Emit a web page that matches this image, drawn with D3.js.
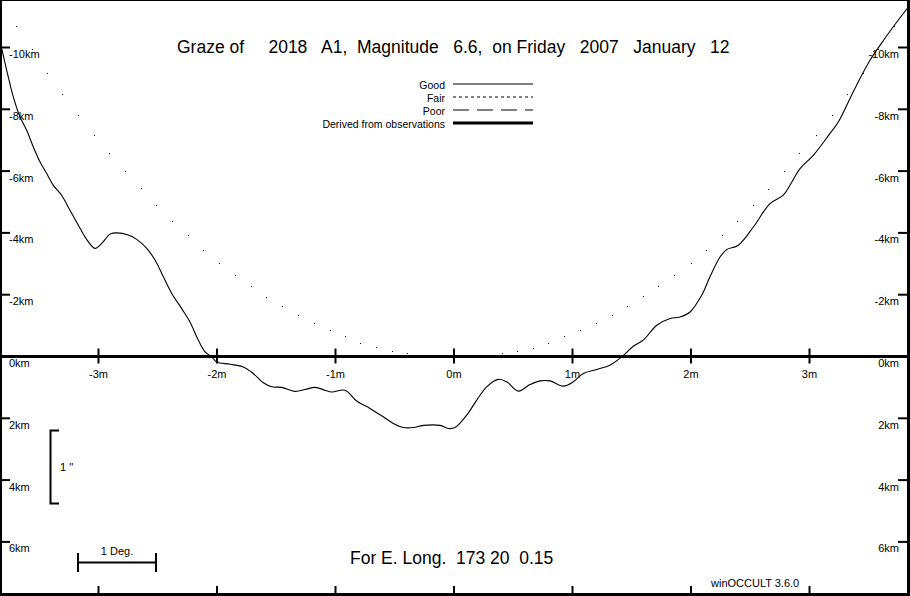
<!DOCTYPE html>
<html>
<head>
<meta charset="utf-8">
<script src="https://cdn.jsdelivr.net/npm/d3@7"></script>
<style>
  html, body { margin: 0; padding: 0; background: #fff; }
  svg { display: block; }
  text { font-family: "Liberation Sans", Arial, sans-serif; fill: #000; }
</style>
</head>
<body>
<svg id="chart" width="910" height="596"></svg>
<script>
// ---------------- data ----------------
const titleText = "Graze of     2018   A1,  Magnitude   6.6,  on Friday   2007   January   12";
const footText = "For E. Long.  173 20  0.15";
const versionText = "winOCCULT 3.6.0";

const xTicks = [-3, -2, -1, 0, 1, 2, 3];
const xTickLabels = ["-3m", "-2m", "-1m", "0m", "1m", "2m", "3m"];
const yTicks = [-10, -8, -6, -4, -2, 0, 2, 4, 6];
const yTickLabels = ["-10km", "-8km", "-6km", "-4km", "-2km", "0km", "2km", "4km", "6km"];

const legendLabels = ["Good", "Fair", "Poor", "Derived from observations"];
const legendDash = ["", "3,3", "16,8", ""];
const legendWidth = [1, 1, 1, 3];

// limb profile: minutes of time vs km
const profileMin = [-3.817, -3.775, -3.719, -3.662, -3.606, -3.550, -3.494, -3.437, -3.381, -3.311,
  -3.241, -3.170, -3.100, -3.030, -2.973, -2.903, -2.846, -2.749, -2.678, -2.593,
  -2.523, -2.453, -2.382, -2.298, -2.228, -2.158, -2.101, -2.045, -2.003, -1.890,
  -1.778, -1.694, -1.609, -1.538, -1.454, -1.342, -1.257, -1.173, -1.089, -1.032,
  -0.920, -0.821, -0.709, -0.597, -0.512, -0.428, -0.343, -0.259, -0.118, -0.048,
  0.008, 0.107, 0.192, 0.276, 0.374, 0.445, 0.543, 0.641, 0.726, 0.810,
  0.922, 1.007, 1.091, 1.204, 1.316, 1.415, 1.513, 1.597, 1.711, 1.823,
  1.907, 1.992, 2.090, 2.160, 2.245, 2.301, 2.399, 2.526, 2.667, 2.779,
  2.835, 2.920, 3.032, 3.173, 3.243, 3.342, 3.426, 3.511, 3.595, 3.707, 3.834];
const profileKm = [-9.97, -9.27, -8.40, -7.75, -7.32, -6.78, -6.30, -5.92, -5.54, -5.22,
  -4.73, -4.25, -3.79, -3.50, -3.66, -3.96, -4.00, -3.93, -3.79, -3.50,
  -3.12, -2.58, -2.04, -1.55, -1.12, -0.53, -0.15, 0.01, 0.18, 0.25,
  0.34, 0.55, 0.85, 0.98, 1.00, 1.13, 1.07, 1.00, 1.09, 1.15,
  1.09, 1.44, 1.68, 1.95, 2.17, 2.30, 2.30, 2.23, 2.23, 2.33,
  2.30, 1.90, 1.41, 0.98, 0.74, 0.82, 1.12, 0.91, 0.79, 0.79,
  0.96, 0.82, 0.55, 0.42, 0.28, 0.01, -0.33, -0.53, -1.01, -1.23,
  -1.28, -1.44, -1.98, -2.58, -3.22, -3.46, -3.60, -4.19, -4.95, -5.22,
  -5.54, -6.08, -6.51, -7.22, -7.59, -8.35, -9.00, -9.59, -10.07, -10.67, -11.31];

// dotted predicted limb: minutes vs km
const dotMin = [-3.699, -3.565, -3.432, -3.305, -3.170, -3.035, -2.909, -2.774, -2.639, -2.512,
  -2.377, -2.242, -2.116, -1.981, -1.846, -1.716, -1.584, -1.449, -1.314, -1.181,
  -1.046, -0.920, -0.793, -0.658, -0.521, -0.394, -0.259, -0.127, 0.008, 0.141,
  0.270, 0.403, 0.534, 0.669, 0.796, 0.931, 1.063, 1.198, 1.331, 1.462,
  1.597, 1.724, 1.859, 1.997, 2.124, 2.259, 2.391, 2.521, 2.652, 2.787,
  2.914, 3.052, 3.187, 3.314, 3.454, 3.582, 3.713];
const dotKm = [-10.69, -9.94, -9.19, -8.51, -7.83, -7.18, -6.57, -5.99, -5.44, -4.90,
  -4.40, -3.92, -3.46, -3.04, -2.65, -2.27, -1.94, -1.62, -1.33, -1.08,
  -0.85, -0.66, -0.45, -0.30, -0.19, -0.10, -0.04, -0.01, 0.01, -0.01,
  -0.04, -0.10, -0.18, -0.29, -0.44, -0.66, -0.85, -1.07, -1.34, -1.63,
  -1.95, -2.28, -2.65, -3.04, -3.46, -3.92, -4.40, -4.90, -5.42, -5.99,
  -6.57, -7.18, -7.83, -8.51, -9.19, -9.94, -10.69];

// ---------------- drawing ----------------
const W = 910, H = 596;
const svg = d3.select("#chart");

const x = d3.scaleLinear().domain([0, 1]).range([454, 572.5]);
const y = d3.scaleLinear().domain([0, 1]).range([356.5, 387.4]);

svg.append("rect").attr("width", W).attr("height", H).attr("fill", "#fff");

const plot = svg.append("g");

// dots
plot.selectAll("rect.dot").data(dotMin.map((m, i) => [m, dotKm[i]]))
  .enter().append("rect").attr("class", "dot")
  .attr("x", d => Math.round(x(d[0])))
  .attr("y", d => Math.round(y(d[1])))
  .attr("width", 1).attr("height", 1).attr("fill", "#000")
  .attr("shape-rendering", "crispEdges");

// profile
const line = d3.line().x(d => x(d[0])).y(d => y(d[1])).curve(d3.curveCatmullRom.alpha(0.5));
plot.append("path")
  .datum(profileMin.map((m, i) => [m, profileKm[i]]))
  .attr("d", line).attr("fill", "none").attr("stroke", "#000").attr("stroke-width", 1.1);

// horizontal axis line
svg.append("line").attr("x1", 0).attr("x2", W).attr("y1", y(0)).attr("y2", y(0))
  .attr("stroke", "#000").attr("stroke-width", 3);

// x ticks on axis
const xt = svg.append("g").selectAll("g").data(xTicks).enter().append("g");
xt.append("line").attr("x1", d => x(d)).attr("x2", d => x(d))
  .attr("y1", y(0) - 8).attr("y2", y(0) + 7).attr("stroke", "#000").attr("stroke-width", 2);
xt.append("text").attr("x", d => x(d)).attr("y", y(0) + 21).attr("text-anchor", "middle")
  .attr("font-size", 11).text((d, i) => xTickLabels[i]);
// x ticks at bottom border
svg.append("g").selectAll("line").data(xTicks).enter().append("line")
  .attr("x1", d => x(d)).attr("x2", d => x(d)).attr("y1", H - 10).attr("y2", H)
  .attr("stroke", "#000").attr("stroke-width", 2);

// y ticks left and right
const yt = svg.append("g").selectAll("g").data(yTicks).enter().append("g");
yt.filter(d => d !== 0).append("line").attr("x1", 0).attr("x2", 10)
  .attr("y1", d => y(d)).attr("y2", d => y(d)).attr("stroke", "#000").attr("stroke-width", 2);
yt.filter(d => d !== 0).append("line").attr("x1", W - 12).attr("x2", W)
  .attr("y1", d => y(d)).attr("y2", d => y(d)).attr("stroke", "#000").attr("stroke-width", 2);
yt.append("text").attr("x", 9).attr("y", d => y(d) + 10.5).attr("font-size", 11)
  .text((d, i) => yTickLabels[i]);
yt.append("text").attr("x", 899).attr("y", d => y(d) + 10.5).attr("font-size", 11)
  .attr("text-anchor", "end").text((d, i) => yTickLabels[i]);

// frame
svg.append("rect").attr("x", 0).attr("y", 0).attr("width", W).attr("height", 1).attr("fill", "#000");
svg.append("rect").attr("x", 0).attr("y", 0).attr("width", 2).attr("height", H).attr("fill", "#000");
svg.append("rect").attr("x", W - 3).attr("y", 0).attr("width", 3).attr("height", H).attr("fill", "#000");
svg.append("rect").attr("x", 0).attr("y", H - 3).attr("width", W).attr("height", 3).attr("fill", "#000");

// title
svg.append("text").attr("x", 177).attr("y", 53).attr("font-size", 17.5)
  .attr("xml:space", "preserve").style("white-space", "pre").text(titleText);

// legend
const lg = svg.append("g").selectAll("g").data(legendLabels).enter().append("g")
  .attr("transform", (d, i) => `translate(0,${84 + i * 13})`);
lg.append("text").attr("x", 445).attr("y", 4.5).attr("text-anchor", "end").attr("font-size", 10.5)
  .text(d => d);
lg.append("line").attr("x1", 453).attr("x2", 533).attr("y1", 0).attr("y2", 0)
  .attr("stroke", "#000")
  .attr("stroke-width", (d, i) => legendWidth[i])
  .attr("stroke-dasharray", (d, i) => legendDash[i] || null);

// 1 arcsec bracket
const br = svg.append("g").attr("stroke", "#000").attr("stroke-width", 2).attr("fill", "none");
br.append("path").attr("d", "M59,430.5 H50.5 V503.5 H59");
svg.append("text").attr("x", 60).attr("y", 471).attr("font-size", 11)
  .attr("xml:space", "preserve").style("white-space", "pre").text("1 ''");

// 1 degree bar
const db = svg.append("g").attr("stroke", "#000").attr("stroke-width", 2);
db.append("line").attr("x1", 78).attr("x2", 156).attr("y1", 562.5).attr("y2", 562.5);
db.append("line").attr("x1", 78).attr("x2", 78).attr("y1", 553).attr("y2", 572);
db.append("line").attr("x1", 156).attr("x2", 156).attr("y1", 553).attr("y2", 572);
svg.append("text").attr("x", 117).attr("y", 555).attr("text-anchor", "middle").attr("font-size", 11)
  .text("1 Deg.");

// footer
svg.append("text").attr("x", 350).attr("y", 564).attr("font-size", 17.5)
  .attr("xml:space", "preserve").style("white-space", "pre").text(footText);
svg.append("text").attr("x", 711).attr("y", 587).attr("font-size", 11).text(versionText);
</script>
</body>
</html>
